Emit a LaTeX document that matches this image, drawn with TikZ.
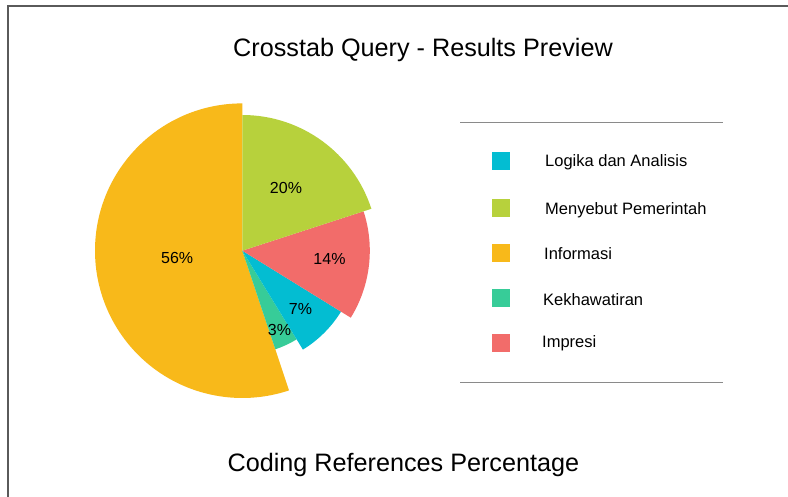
\documentclass[tikz,border=0pt]{standalone}
\usepackage{fontspec}
\setmainfont{Liberation Sans}
\definecolor{cyellow}{HTML}{F8B91A}
\definecolor{clime}{HTML}{B7D13C}
\definecolor{cred}{HTML}{F26C6A}
\definecolor{ccyan}{HTML}{03BDD2}
\definecolor{cgreen}{HTML}{37CC98}
\definecolor{cframe}{HTML}{5A5A5A}
\definecolor{cleg}{HTML}{8A8A8A}
\begin{document}
\begin{tikzpicture}[x=1pt,y=1pt,
  pct/.style={font=\fontsize{16}{18}\selectfont, inner sep=0pt, text=black},
  legtext/.style={font=\fontsize{16.5}{19}\selectfont, inner sep=0pt, anchor=base west, text=black},
  legsq/.style={minimum width=18.3pt, minimum height=18.5pt, inner sep=0pt, draw=none},
  ttl/.style={font=\fontsize{25.2}{28}\selectfont, inner sep=0pt, anchor=base, text=black}]
\useasboundingbox (0,0) rectangle (788,497);
\fill[white] (0,0) rectangle (788,497);
% frame
\draw[cframe, line width=1.4pt] (8,0) -- (8,491) -- (788,491);
% title
\node[ttl] (title) at (423,440.3) {Crosstab Query - Results Preview};
\node[ttl] (subtitle) at (403.4,25.3) {Coding References Percentage};
% pie
\coordinate (c) at (242.3,246.3);
\fill[cyellow] (c) -- ++(90:147.3) arc[start angle=90, end angle=288.5, radius=147.3] -- cycle;
\fill[cgreen] (c) -- ++(288.5:104) arc[start angle=288.5, end angle=301.5, radius=104] -- cycle;
\fill[ccyan] (c) -- ++(301.5:116) arc[start angle=301.5, end angle=328.3, radius=116] -- cycle;
\fill[cred] (c) -- ++(328.3:127.5) arc[start angle=328.3, end angle=378, radius=127.5] -- cycle;
\fill[clime] (c) -- ++(18:135.7) arc[start angle=18, end angle=90, radius=135.7] -- cycle;
\node[pct] (p56) at (177.2,239.2) {56\%};
\node[pct] (p20) at (286,309.2) {20\%};
\node[pct] (p14) at (329.5,237.5) {14\%};
\node[pct] (p7) at (300.5,188) {7\%};
\node[pct] (p3) at (279.5,167.3) {3\%};
% legend
\draw[cleg, line width=1pt] (460,374.3) -- (723,374.3);
\draw[cleg, line width=1pt] (460,114.3) -- (723,114.3);
\node[legsq, fill=ccyan] (s1) at (501,336) {};
\node[legsq, fill=clime] (s2) at (501,289) {};
\node[legsq, fill=cyellow] (s3) at (501,244) {};
\node[legsq, fill=cgreen] (s4) at (501,199) {};
\node[legsq, fill=cred] (s5) at (501,154) {};
\node[legtext] (l1) at (545,330.3) {Logika dan Analisis};
\node[legtext] (l2) at (545,282) {Menyebut Pemerintah};
\node[legtext] (l3) at (544,237) {Informasi};
\node[legtext] (l4) at (543,191) {Kekhawatiran};
\node[legtext] (l5) at (542,149.7) {Impresi};
\end{tikzpicture}
\end{document}
